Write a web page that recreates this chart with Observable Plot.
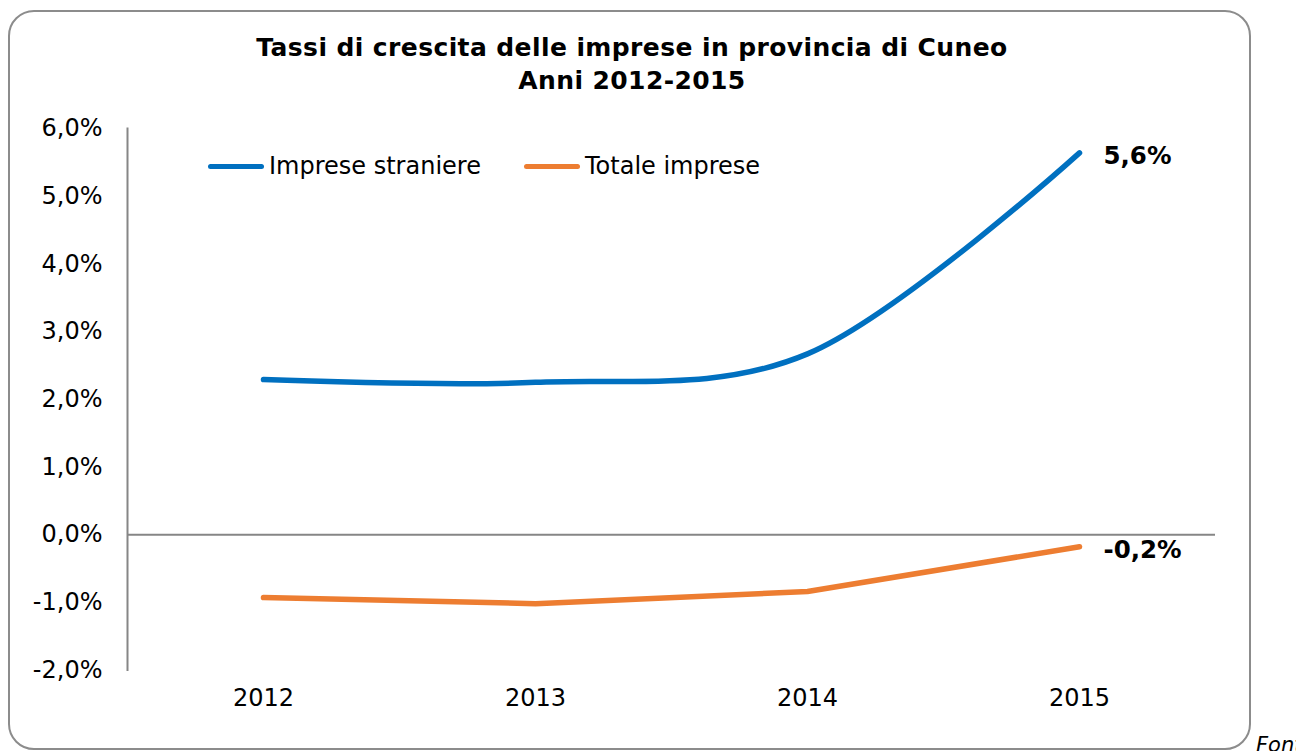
<!DOCTYPE html>
<html><head><meta charset="utf-8">
<script src="https://cdn.jsdelivr.net/npm/d3@7"></script>
<script src="https://cdn.jsdelivr.net/npm/@observablehq/plot@0.6"></script>
<style>
html,body{margin:0;padding:0;background:#fff;overflow:hidden;}
#wrap{position:relative;width:1296px;height:751px;font-family:"DejaVu Sans",Verdana,sans-serif;}
#border{position:absolute;left:8px;top:10px;width:1243px;height:740px;border:2px solid #8c8c8c;border-radius:26px;box-sizing:border-box;}
#title{position:absolute;left:0;width:1264px;top:31px;text-align:center;font-weight:bold;font-size:25px;line-height:33px;color:#000;letter-spacing:0.4px;}
.leg{position:absolute;top:152px;font-size:24px;color:#000;display:flex;align-items:center;}
.sw{display:inline-block;width:56px;height:5px;border-radius:3px;margin-right:5px;}
#src{position:absolute;left:1256px;top:733px;font-style:italic;font-size:21px;white-space:nowrap;}
#chart{position:absolute;left:0;top:0;}
</style></head>
<body><div id="wrap">
<div id="border"></div>
<div id="title">Tassi di crescita delle imprese in provincia di Cuneo<br>Anni 2012-2015</div>
<div class="leg" id="leg1" style="left:208px"><span class="sw" style="background:#0070C0"></span>Imprese straniere</div>
<div class="leg" id="leg2" style="left:524px"><span class="sw" style="background:#ED7D31"></span>Totale imprese</div>
<div id="chart"></div>
<div id="src">Fonte: elaborazione su dati InfoCamere</div>
</div>
<script>
const years = ["2012", "2013", "2014", "2015"];
const straniere = [2.29, 2.25, 2.67, 5.64];
const totale = [-0.93, -1.02, -0.84, -0.18];
const seriesNames = ["Imprese straniere", "Totale imprese"];
const colors = ["#0070C0", "#ED7D31"];
const yTicks = [-2, -1, 0, 1, 2, 3, 4, 5, 6];
const endLabels = ["5,6%", "-0,2%"];

const s1 = years.map((y, i) => ({year: y, value: straniere[i]}));
const s2 = years.map((y, i) => ({year: y, value: totale[i]}));
const ends = [
  {year: years[3], value: straniere[3], label: endLabels[0]},
  {year: years[3], value: totale[3], label: endLabels[1]}
];
const fmt = d => d.toFixed(1).replace(".", ",") + "%";

const chart = Plot.plot({
  width: 1296,
  height: 751,
  marginLeft: 127,
  marginRight: 81,
  marginTop: 128,
  marginBottom: 81.5,
  style: {fontFamily: "'DejaVu Sans', Verdana, sans-serif", fontSize: "24px", color: "#000", background: "transparent"},
  x: {type: "point", domain: years, padding: 0.5},
  y: {domain: [-2, 6]},
  marks: [
    Plot.frame({anchor: "left", stroke: "#868686", strokeWidth: 2, strokeOpacity: 1}),
    Plot.ruleY([0], {stroke: "#868686", strokeWidth: 2}),
    Plot.axisY({ticks: yTicks, tickFormat: fmt, tickSize: 0, tickPadding: 25, label: null, fontSize: 24}),
    Plot.axisX({tickSize: 0, tickPadding: 19, label: null, fontSize: 24}),
    Plot.line(s1, {x: "year", y: "value", stroke: colors[0], strokeWidth: 5.5, curve: "cardinal", strokeLinecap: "round"}),
    Plot.line(s2, {x: "year", y: "value", stroke: colors[1], strokeWidth: 5.5, strokeLinecap: "round", strokeLinejoin: "round"}),
    Plot.text(ends, {x: "year", y: "value", text: "label", textAnchor: "start", dx: 24, dy: 3, fontWeight: "bold", fontSize: 24.5, fill: "#000", letterSpacing: "0.5px"})
  ]
});
document.getElementById("chart").appendChild(chart);
</script>
</body></html>
